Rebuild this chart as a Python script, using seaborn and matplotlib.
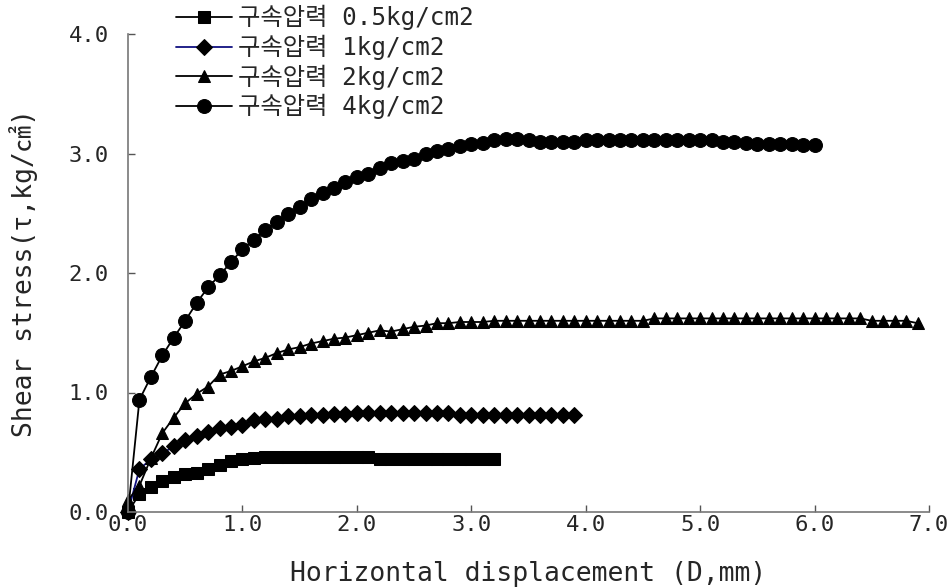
import numpy as np
import pandas as pd
import matplotlib
matplotlib.use("Agg")
import matplotlib.pyplot as plt
import seaborn as sns

# Shear stress (kg/cm2) at 0.1 mm displacement steps for each confining pressure
tau_05 = [0.00, 0.15, 0.21, 0.26, 0.29, 0.32, 0.33, 0.36, 0.39, 0.43,
          0.44, 0.45, 0.46, 0.46, 0.46, 0.46, 0.46, 0.46, 0.46, 0.46,
          0.46, 0.46, 0.44, 0.44, 0.44, 0.44, 0.44, 0.44, 0.44, 0.44,
          0.44, 0.44, 0.44]
tau_1 = [0.00, 0.36, 0.44, 0.49, 0.55, 0.60, 0.64, 0.67, 0.70, 0.71,
         0.73, 0.77, 0.78, 0.78, 0.80, 0.80, 0.81, 0.81, 0.82, 0.82,
         0.83, 0.83, 0.83, 0.83, 0.83, 0.83, 0.83, 0.83, 0.83, 0.81,
         0.81, 0.81, 0.81, 0.81, 0.81, 0.81, 0.81, 0.81, 0.81, 0.81]
tau_2 = [0.10, 0.22, 0.45, 0.66, 0.79, 0.91, 0.99, 1.05, 1.15, 1.18,
         1.22, 1.26, 1.29, 1.33, 1.36, 1.38, 1.41, 1.43, 1.45, 1.46,
         1.48, 1.50, 1.52, 1.51, 1.53, 1.55, 1.56, 1.58, 1.58, 1.59,
         1.59, 1.59, 1.60, 1.60, 1.60, 1.60, 1.60, 1.60, 1.60, 1.60,
         1.60, 1.60, 1.60, 1.60, 1.60, 1.60, 1.62, 1.62, 1.62, 1.62,
         1.62, 1.62, 1.62, 1.62, 1.62, 1.62, 1.62, 1.62, 1.62, 1.62,
         1.62, 1.62, 1.62, 1.62, 1.62, 1.60, 1.60, 1.60, 1.60, 1.58]
tau_4 = [0.00, 0.94, 1.13, 1.31, 1.46, 1.60, 1.75, 1.88, 1.98, 2.09,
         2.20, 2.28, 2.36, 2.43, 2.49, 2.55, 2.62, 2.67, 2.71, 2.76,
         2.80, 2.83, 2.88, 2.92, 2.94, 2.95, 3.00, 3.02, 3.04, 3.06,
         3.08, 3.09, 3.11, 3.12, 3.12, 3.11, 3.10, 3.10, 3.10, 3.10,
         3.11, 3.11, 3.11, 3.11, 3.11, 3.11, 3.11, 3.11, 3.11, 3.11,
         3.11, 3.11, 3.10, 3.10, 3.09, 3.08, 3.08, 3.08, 3.08, 3.07,
         3.07]

labels = ["구속압력 0.5kg/cm2", "구속압력 1kg/cm2",
          "구속압력 2kg/cm2", "구속압력 4kg/cm2"]
series = [tau_05, tau_1, tau_2, tau_4]
markers = ["s", "D", "^", "o"]
msizes = [8, 8, 8, 10]
line_colors = ["black", "#101080", "black", "black"]

x_ticks = [0, 1, 2, 3, 4, 5, 6, 7]
y_ticks = [0, 1, 2, 3, 4]

sns.set_style("white")
plt.rcParams["font.family"] = ["DejaVu Sans Mono", "Noto Sans CJK KR"]

fig = plt.figure(figsize=(9.49, 5.88), dpi=100)
ax = fig.add_axes([128 / 949, 1 - 512 / 588, (929 - 128) / 949, (512 - 34) / 588])

for lab, ys, mk, ms, lc in zip(labels, series, markers, msizes, line_colors):
    xs = np.round(np.arange(len(ys)) * 0.1, 2)
    df = pd.DataFrame({"D": xs, "tau": ys})
    sns.lineplot(data=df, x="D", y="tau", ax=ax, color=lc, marker=mk,
                 markersize=ms, markerfacecolor="black",
                 markeredgecolor="black", linewidth=1.3, label=lab,
                 estimator=None, sort=False, clip_on=False)

ax.set_xlim(0, 7)
ax.set_ylim(0, 4)
ax.set_xticks(x_ticks)
ax.set_yticks(y_ticks)
ax.set_xticklabels([f"{v:.1f}" for v in x_ticks])
ax.set_yticklabels([f"{v:.1f}" for v in y_ticks])
ax.tick_params(axis="both", direction="in", length=5, width=1,
               color="#555555", labelsize=16, bottom=True, left=True)
ax.tick_params(axis="x", pad=2)
ax.tick_params(axis="y", pad=14)
for side in ["top", "right"]:
    ax.spines[side].set_visible(False)
for side in ["left", "bottom"]:
    ax.spines[side].set_color("#777777")
    ax.spines[side].set_linewidth(1.2)

ax.set_xlabel("Horizontal displacement (D,mm)", fontsize=19, labelpad=19)
ax.set_ylabel("Shear stress(τ,kg/㎠)", fontsize=19, labelpad=22)

ax.legend(loc="upper left", bbox_to_anchor=(175 / 949, 1 - 4 / 588),
          bbox_transform=fig.transFigure, frameon=False, fontsize=17.5,
          handlelength=2.3, handletextpad=0.25, labelspacing=0.18,
          borderaxespad=0, borderpad=0.05, numpoints=1)

fig.savefig("out.png", dpi=100)
